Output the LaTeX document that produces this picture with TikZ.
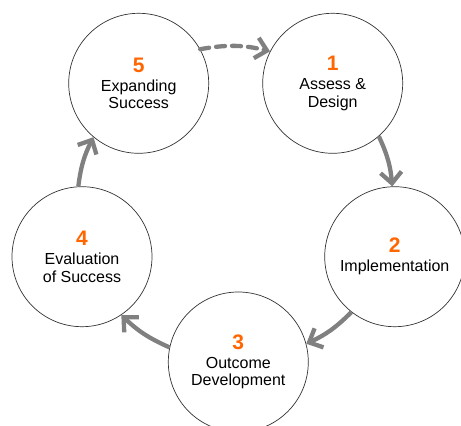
\documentclass[tikz,border=0pt]{standalone}
\usepackage{fontspec}
\setmainfont{Liberation Sans}
\usepackage{tikz}
\usetikzlibrary{arrows.meta,calc}

\definecolor{phaseorange}{RGB}{255,102,0}
\definecolor{arrowgray}{RGB}{128,128,128}
\newcommand{\phasenum}[1]{{\color{phaseorange}\fontsize{21}{21}\selectfont\bfseries #1}}

\begin{document}
\begin{tikzpicture}[x=1pt, y=1pt,
                    phase/.style = {circle, draw=black!80, line width=0.7pt, fill=white,
                            minimum size=140pt, inner sep=0pt, align=center,
                            font=\fontsize{16}{17.5}\selectfont},
                    cycle arrow/.style = {draw=arrowgray, line width=4.3pt,
                            -{Straight Barb[length=11pt, width=21pt]}},
                    next phase/.style = {cycle arrow, bend left=10},
                    restart/.style = {cycle arrow, bend left=12, line cap=round,
                            dash pattern=on 9pt off 7pt} ]

                \useasboundingbox (0,0) rectangle (461,426);

                \node [phase] (assess) at (332.7,342.7) {\phasenum{1}\\[1.5pt]Assess \&\\Design};
                \node [phase] (implement) at (394.7,169.3) {\phasenum{2}\\[1.5pt]Implementation};
                \node [phase] (outcome) at (238.3,64) {\phasenum{3}\\[1.5pt]Outcome\\Development};
                \node [phase] (evaluate) at (82,169.3) {\phasenum{4}\\[1.5pt]Evaluation\\of Success};
                \node [phase] (expand) at (138.7,342.7) {\phasenum{5}\\[1.5pt]Expanding\\Success};

                % clockwise round the cycle
                \draw [next phase] (assess.-49) to (implement.92);
                \draw [next phase] (implement.-128) to (outcome.15);
                \draw [next phase] (outcome.168) to (evaluate.-56);
                \draw [next phase] (evaluate.93) to (expand.-130);
                % back to the start
                \draw [restart] (expand.29) to (assess.153);
            \end{tikzpicture}
\end{document}
